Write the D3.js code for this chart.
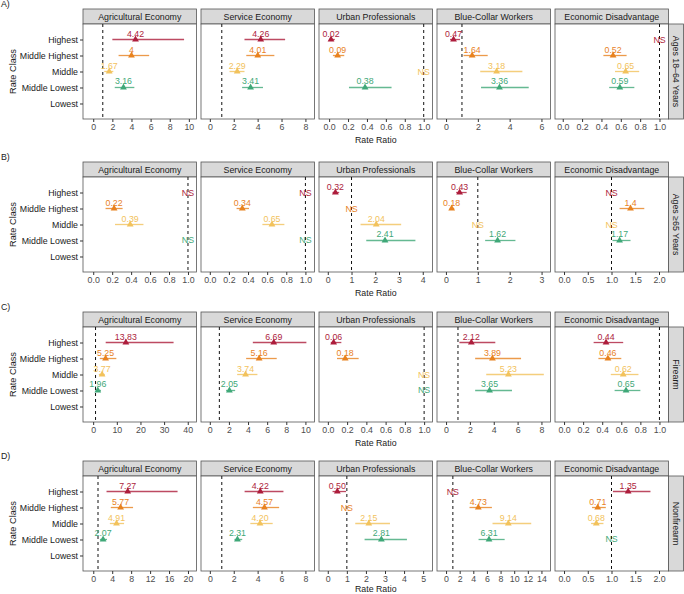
<html>
<head>
<script src="https://d3js.org/d3.v7.min.js"></script>
<style>
body { margin: 0; background: #fff; }
text { font-family: "Liberation Sans", Arial, sans-serif; }
</style>
</head>
<body>
<svg id="chart" width="684" height="594"></svg>
<script>
// facet labels
const rowTags = ["A)", "B)", "C)", "D)"];
const rowNames = ["Ages 18\u201364 Years", "Ages \u226565 Years", "Firearm", "Nonfirearm"];
const panelNames = ["Agricultural Economy", "Service Economy", "Urban Professionals", "Blue-Collar Workers", "Economic Disadvantage"];
const classes = ["Highest", "Middle Highest", "Middle", "Middle Lowest", "Lowest"];
const classColors = ["#ad1d3c", "#e8821f", "#f2c25c", "#3fa878"];

// estimates (null = NS), per panel, classes Highest..Middle Lowest
const estA = [["4.42","4","1.67","3.16"], ["4.26","4.01","2.29","3.41"], ["0.02","0.09",null,"0.38"], ["0.47","1.64","3.18","3.36"], [null,"0.52","0.65","0.59"]];
const lowA = [[2.0,2.65,1.15,2.25], [2.9,3.05,1.65,2.7], [0.005,0.04,null,0.21], [0.25,1.1,2.15,2.2], [null,0.42,0.54,0.48]];
const highA = [[9.5,5.85,2.1,4.3], [6.3,5.4,2.9,4.45], [0.06,0.16,null,0.66], [0.88,2.62,4.8,5.2], [null,0.66,0.79,0.74]];

const estB = [[null,"0.22","0.39",null], [null,"0.34","0.65",null], ["0.32",null,"2.04","2.41"], ["0.43","0.18",null,"1.62"], [null,"1.4",null,"1.17"]];
const lowB = [[null,0.13,0.23,null], [null,0.28,0.55,null], [0.2,null,1.38,1.62], [0.32,0.12,null,1.23], [null,1.17,null,1.02]];
const highB = [[null,0.31,0.53,null], [null,0.41,0.78,null], [0.48,null,3.09,3.69], [0.65,0.26,null,2.18], [null,1.69,null,1.4]];

const estC = [["13.83","5.25","3.77","1.96"], ["6.69","5.16","3.74","2.05"], ["0.06","0.18",null,null], ["2.12","3.89","5.23","3.65"], ["0.44","0.46","0.62","0.65"]];
const lowC = [[5.3,2.8,2.4,1.1], [4.5,3.8,2.86,1.7], [0.03,0.095,null,null], [1.12,2.44,3.37,2.44], [0.31,0.36,0.49,0.53]];
const highC = [[34,9.8,4.9,3.3], [10.1,7.0,4.98,2.65], [0.14,0.32,null,null], [4.13,6.29,8.2,5.53], [0.62,0.6,0.78,0.8]];

const estD = [["7.27","5.77","4.91","2.07"], ["4.22","4.57","4.20","2.31"], ["0.50",null,"2.15","2.81"], [null,"4.73","9.14","6.31"], ["1.35","0.71","0.68",null]];
const lowD = [[2.8,3.7,3.5,1.4], [2.91,3.6,3.39,2.06], [0.25,null,1.44,1.93], [null,3.44,6.82,4.77], [1.03,0.59,0.57,null]];
const highD = [[17.8,8.4,6.5,2.9], [6.16,5.8,5.26,2.71], [0.96,null,3.26,4.15], [null,6.73,12.5,8.6], [1.82,0.88,0.83,null]];

// x limits and ticks per panel
const domA = [[-1.07,10.8], [-0.74,8.76], [-0.107,1.093], [-0.57,6.57], [-0.08,1.093]];
const domB = [[-0.108,1.09], [-0.092,1.095], [-0.37,4.41], [-0.28,3.28], [-0.19,2.2]];
const domC = [[-4.3,43.7], [-0.92,10.95], [-0.092,1.087], [-0.76,8.76], [-0.095,1.095]];
const domD = [[-2.17,21.8], [-0.74,8.76], [-0.46,5.49], [-1.33,15.33], [-0.19,2.2]];

const tickA = [[0,2,4,6,8,10], [0,2,4,6,8], [0,.2,.4,.6,.8,1], [0,2,4,6], [0,.2,.4,.6,.8,1]];
const tickB = [[0,.2,.4,.6,.8,1], [0,.2,.4,.6,.8,1], [0,1,2,3,4], [0,1,2,3], [0,.5,1,1.5,2]];
const tickC = [[0,10,20,30,40], [0,2,4,6,8,10], [0,.2,.4,.6,.8,1], [0,2,4,6,8], [0,.2,.4,.6,.8,1]];
const tickD = [[0,4,8,12,16,20], [0,2,4,6,8], [0,1,2,3,4,5], [0,2,4,6,8,10,12,14], [0,.5,1,1.5,2]];

const rows = [
  {est: estA, low: lowA, high: highA, dom: domA, ticks: tickA},
  {est: estB, low: lowB, high: highB, dom: domB, ticks: tickB},
  {est: estC, low: lowC, high: highC, dom: domC, ticks: tickC},
  {est: estD, low: lowD, high: highD, dom: domD, ticks: tickD}
];

const rowTops = [9, 162, 312, 461];
const left = 83, panelW = 113.5, gap = 4.5, stripH = 15, panelH = 95;
const fs = 8.8;
const border = "#555";

const svg = d3.select("#chart");

rows.forEach(function(row, r) {
  const top = rowTops[r];
  const pTop = top + stripH;
  const g = svg.append("g");

  const ys = d3.scalePoint().domain(classes).range([pTop, pTop + panelH]).padding(0.97);

  // row tag
  g.append("text").attr("x", 1).attr("y", top - 2)
    .attr("font-size", fs).attr("fill", "#222").text(rowTags[r]);

  panelNames.forEach(function(name, p) {
    const x0 = left + p * (panelW + gap);
    const xs = d3.scaleLinear().domain(row.dom[p]).range([x0, x0 + panelW]);

    // strip
    g.append("rect").attr("x", x0).attr("y", top).attr("width", panelW).attr("height", stripH)
      .attr("fill", "#d9d9d9").attr("stroke", border).attr("stroke-width", 0.8);
    g.append("text").attr("x", x0 + panelW / 2).attr("y", top + stripH / 2)
      .attr("text-anchor", "middle").attr("dominant-baseline", "central")
      .attr("font-size", fs).attr("fill", "#1a1a1a").text(name);

    // panel
    g.append("rect").attr("x", x0).attr("y", pTop).attr("width", panelW).attr("height", panelH)
      .attr("fill", "#fff").attr("stroke", border).attr("stroke-width", 0.8);

    // reference line at 1
    g.append("line").attr("x1", xs(1)).attr("x2", xs(1)).attr("y1", pTop).attr("y2", pTop + panelH)
      .attr("stroke", "#111").attr("stroke-width", 1).attr("stroke-dasharray", "3,3");

    // x axis
    const tv = row.ticks[p];
    const dec = tv.some(function(t) { return t % 1 !== 0; });
    const ax = g.append("g").attr("transform", "translate(0," + (pTop + panelH) + ")")
      .call(d3.axisBottom(xs).tickValues(tv).tickSize(3).tickPadding(2)
        .tickFormat(function(d) { return dec ? d.toFixed(1) : d3.format("d")(d); }));
    ax.select(".domain").remove();
    ax.selectAll("line").attr("stroke", "#333");
    ax.selectAll("text").attr("font-size", fs).attr("fill", "#4d4d4d")
      .attr("font-family", "Liberation Sans, Arial, sans-serif");

    // marks
    const pts = classes.slice(0, 4).map(function(c, i) {
      return {cls: c, i: i, est: row.est[p][i], lo: row.low[p][i], hi: row.high[p][i]};
    });

    pts.forEach(function(d) {
      const col = classColors[d.i];
      const y = ys(d.cls);
      if (d.est === null) {
        g.append("text").attr("x", xs(1)).attr("y", y)
          .attr("text-anchor", "middle").attr("dominant-baseline", "central")
          .attr("font-size", fs).attr("fill", col).text("NS");
        return;
      }
      const v = +d.est;
      g.append("line").attr("x1", xs(d.lo)).attr("x2", xs(d.hi)).attr("y1", y).attr("y2", y)
        .attr("stroke", col).attr("stroke-width", 1.3).attr("opacity", 0.8);
      g.append("path").attr("d", d3.symbol(d3.symbolTriangle).size(20)())
        .attr("transform", "translate(" + xs(v) + "," + y + ")")
        .attr("fill", col);
      g.append("text").attr("x", xs(v)).attr("y", y - 3)
        .attr("text-anchor", "middle").attr("font-size", fs).attr("fill", col).text(d.est);
    });

    // y axis on first panel
    if (p == 0) {
      const ay = g.append("g").attr("transform", "translate(" + x0 + ",0)")
        .call(d3.axisLeft(ys).tickSize(3).tickPadding(2));
      ay.select(".domain").remove();
      ay.selectAll("line").attr("stroke", "#333");
      ay.selectAll("text").attr("font-size", fs).attr("fill", "#1a1a1a")
        .attr("font-family", "Liberation Sans, Arial, sans-serif");
    }
    // x title under middle panel
    if (p == 2) {
      const off = (r == rows.length - 1) ? 21 : 24;
      g.append("text").attr("x", x0 + panelW / 2).attr("y", pTop + panelH + off)
        .attr("text-anchor", "middle").attr("font-size", fs).attr("fill", "#1a1a1a").text("Rate Ratio");
    }
  });

  // y title
  g.append("text").attr("transform", "translate(13," + (pTop + panelH / 2) + ") rotate(-90)")
    .attr("text-anchor", "middle").attr("dominant-baseline", "central")
    .attr("font-size", fs + 0.4).attr("fill", "#1a1a1a").text("Rate Class");

  // right strip
  const sx = left + 5 * panelW + 4 * gap;
  g.append("rect").attr("x", sx).attr("y", pTop).attr("width", 15).attr("height", panelH)
    .attr("fill", "#d9d9d9").attr("stroke", border).attr("stroke-width", 0.8);
  g.append("text").attr("transform", "translate(" + (sx + 7.5) + "," + (pTop + panelH / 2) + ") rotate(90)")
    .attr("text-anchor", "middle").attr("dominant-baseline", "central")
    .attr("font-size", fs).attr("fill", "#1a1a1a").text(rowNames[r]);
});
</script>
</body>
</html>
